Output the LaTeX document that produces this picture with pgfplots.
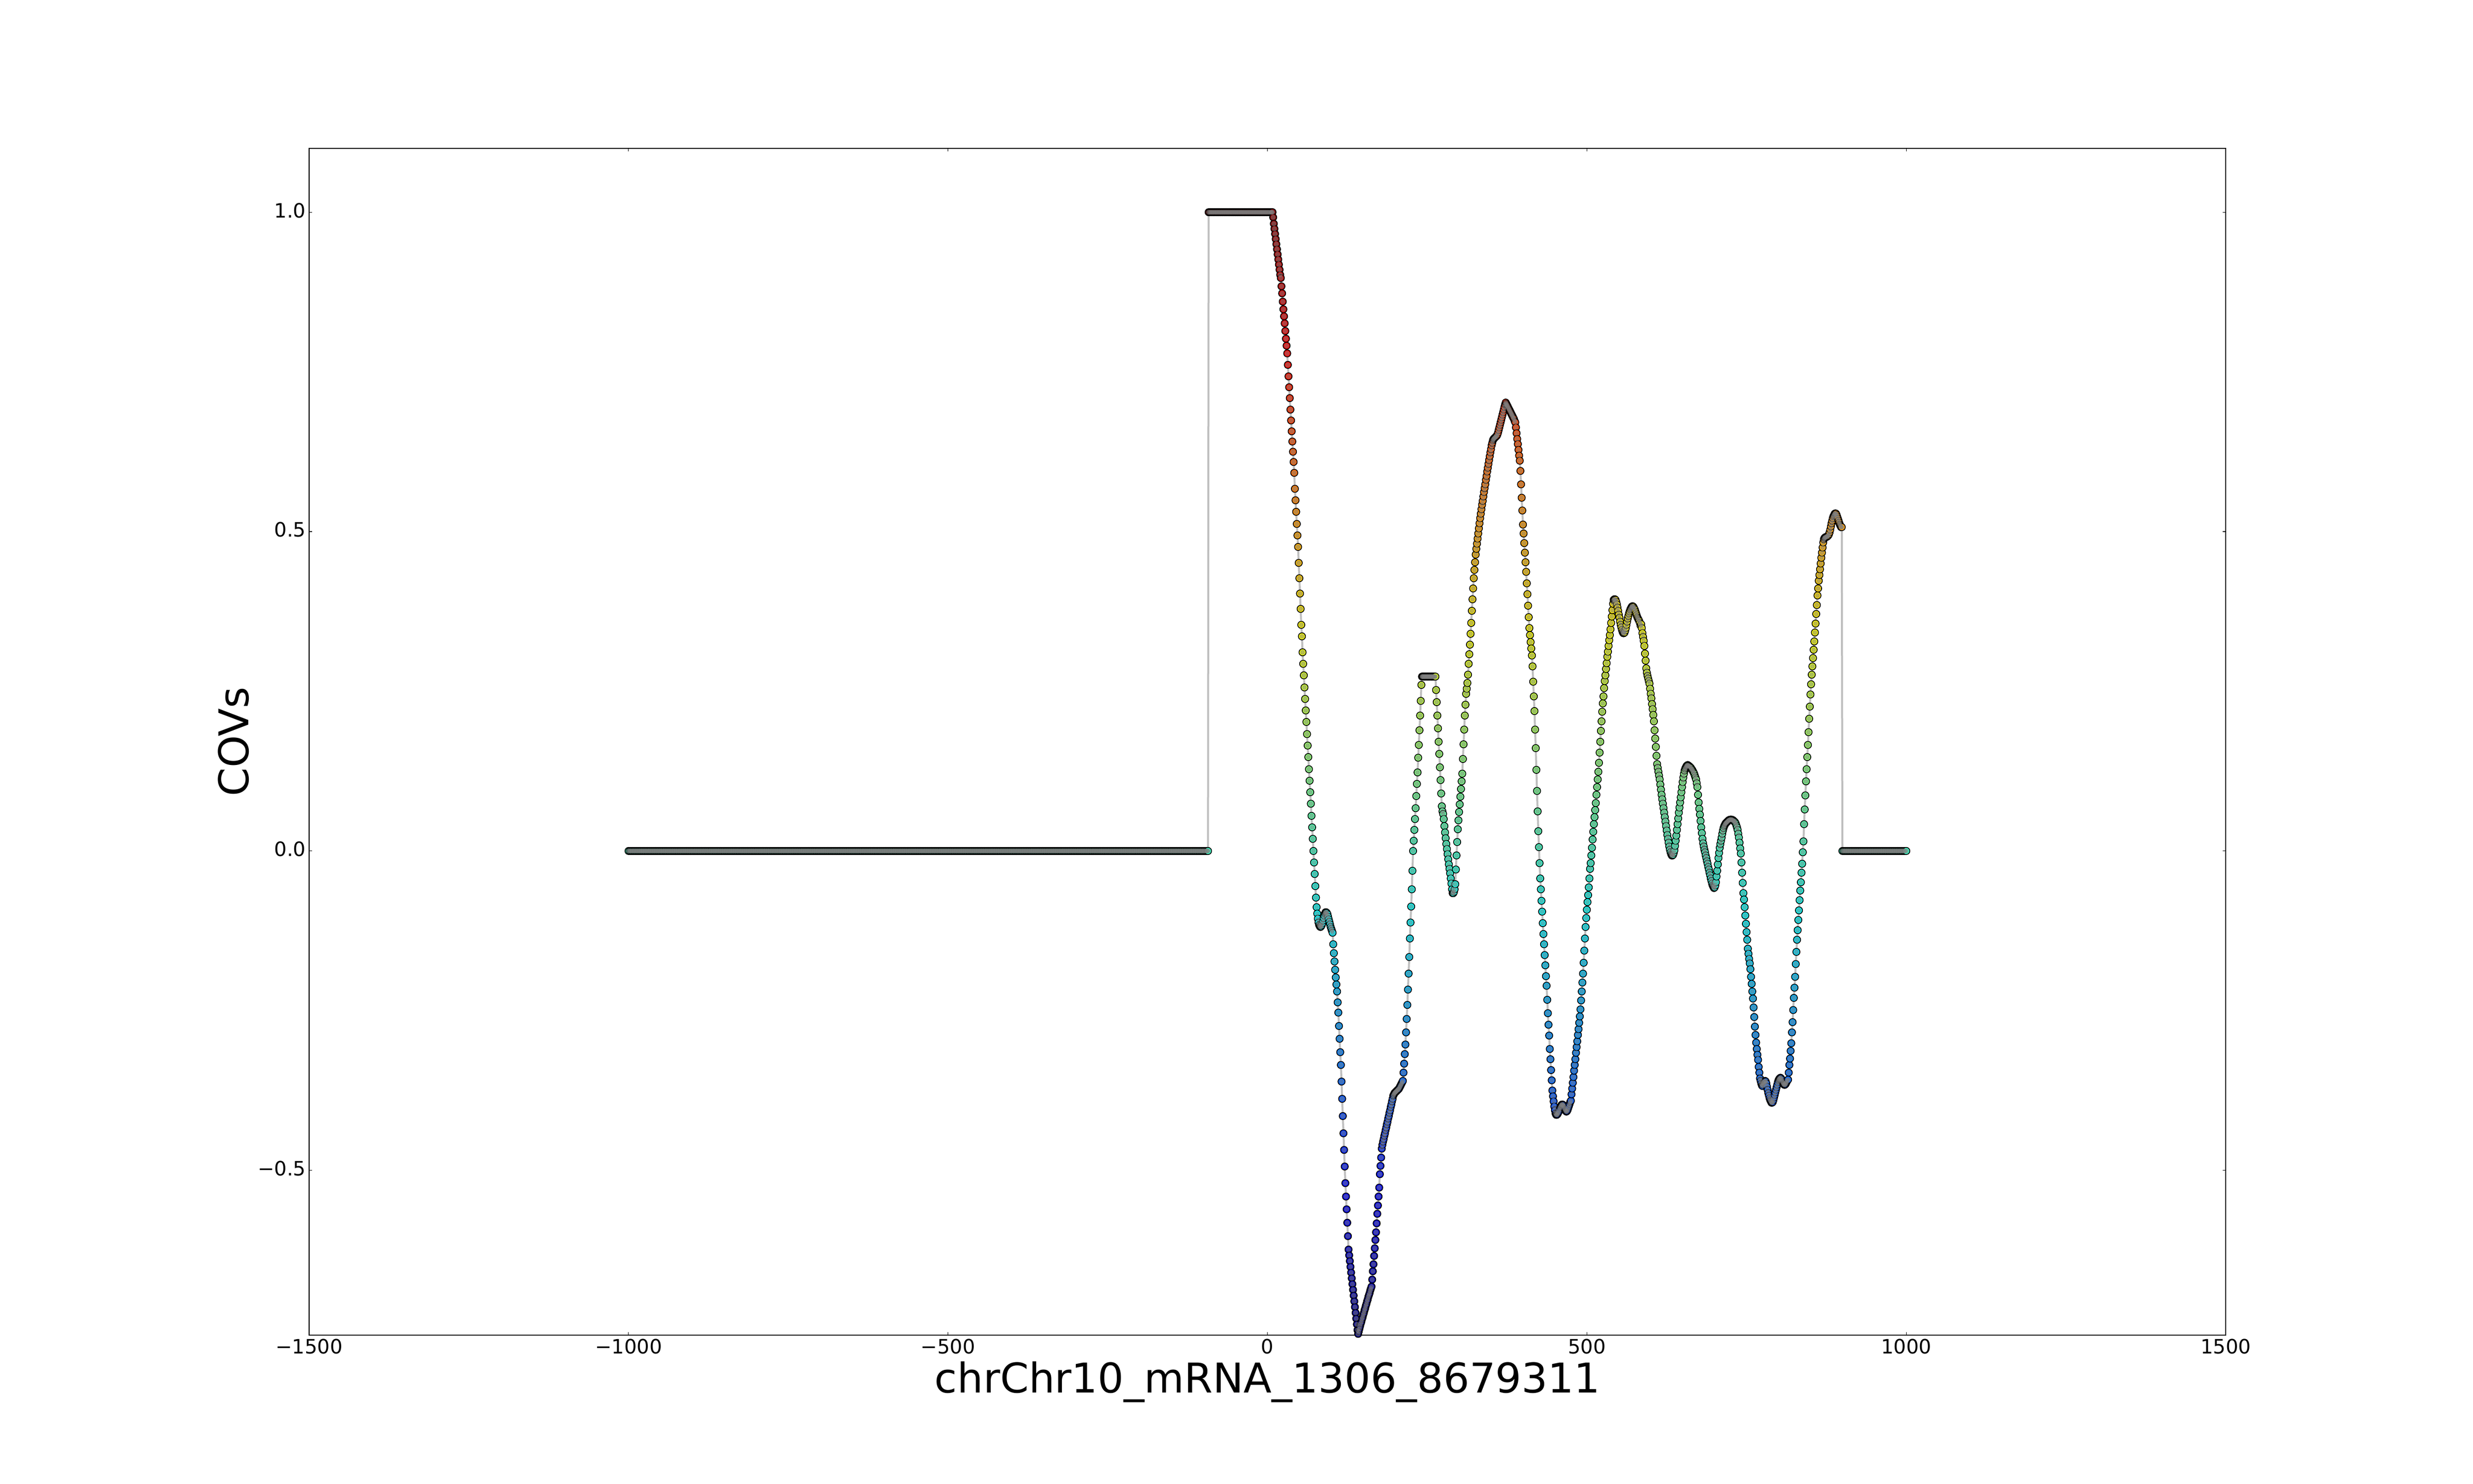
\documentclass[border=0pt]{standalone}
\usepackage{fontspec}
\setmainfont{DejaVu Sans}
\usepackage{pgfplots}
\pgfplotsset{compat=1.18}
\usepackage{pgfplotstable}

\pgfplotstableread[row sep=\\]{
x y\\
-1000 0\\ -998 0\\ -996 0\\ -994 0\\ -992 0\\ -990 0\\ -988 0\\ -986 0\\ -984 0\\ -982 0\\
-980 0\\ -978 0\\ -976 0\\ -974 0\\ -972 0\\ -970 0\\ -968 0\\ -966 0\\ -964 0\\ -962 0\\
-960 0\\ -958 0\\ -956 0\\ -954 0\\ -952 0\\ -950 0\\ -948 0\\ -946 0\\ -944 0\\ -942 0\\
-940 0\\ -938 0\\ -936 0\\ -934 0\\ -932 0\\ -930 0\\ -928 0\\ -926 0\\ -924 0\\ -922 0\\
-920 0\\ -918 0\\ -916 0\\ -914 0\\ -912 0\\ -910 0\\ -908 0\\ -906 0\\ -904 0\\ -902 0\\
-900 0\\ -898 0\\ -896 0\\ -894 0\\ -892 0\\ -890 0\\ -888 0\\ -886 0\\ -884 0\\ -882 0\\
-880 0\\ -878 0\\ -876 0\\ -874 0\\ -872 0\\ -870 0\\ -868 0\\ -866 0\\ -864 0\\ -862 0\\
-860 0\\ -858 0\\ -856 0\\ -854 0\\ -852 0\\ -850 0\\ -848 0\\ -846 0\\ -844 0\\ -842 0\\
-840 0\\ -838 0\\ -836 0\\ -834 0\\ -832 0\\ -830 0\\ -828 0\\ -826 0\\ -824 0\\ -822 0\\
-820 0\\ -818 0\\ -816 0\\ -814 0\\ -812 0\\ -810 0\\ -808 0\\ -806 0\\ -804 0\\ -802 0\\
-800 0\\ -798 0\\ -796 0\\ -794 0\\ -792 0\\ -790 0\\ -788 0\\ -786 0\\ -784 0\\ -782 0\\
-780 0\\ -778 0\\ -776 0\\ -774 0\\ -772 0\\ -770 0\\ -768 0\\ -766 0\\ -764 0\\ -762 0\\
-760 0\\ -758 0\\ -756 0\\ -754 0\\ -752 0\\ -750 0\\ -748 0\\ -746 0\\ -744 0\\ -742 0\\
-740 0\\ -738 0\\ -736 0\\ -734 0\\ -732 0\\ -730 0\\ -728 0\\ -726 0\\ -724 0\\ -722 0\\
-720 0\\ -718 0\\ -716 0\\ -714 0\\ -712 0\\ -710 0\\ -708 0\\ -706 0\\ -704 0\\ -702 0\\
-700 0\\ -698 0\\ -696 0\\ -694 0\\ -692 0\\ -690 0\\ -688 0\\ -686 0\\ -684 0\\ -682 0\\
-680 0\\ -678 0\\ -676 0\\ -674 0\\ -672 0\\ -670 0\\ -668 0\\ -666 0\\ -664 0\\ -662 0\\
-660 0\\ -658 0\\ -656 0\\ -654 0\\ -652 0\\ -650 0\\ -648 0\\ -646 0\\ -644 0\\ -642 0\\
-640 0\\ -638 0\\ -636 0\\ -634 0\\ -632 0\\ -630 0\\ -628 0\\ -626 0\\ -624 0\\ -622 0\\
-620 0\\ -618 0\\ -616 0\\ -614 0\\ -612 0\\ -610 0\\ -608 0\\ -606 0\\ -604 0\\ -602 0\\
-600 0\\ -598 0\\ -596 0\\ -594 0\\ -592 0\\ -590 0\\ -588 0\\ -586 0\\ -584 0\\ -582 0\\
-580 0\\ -578 0\\ -576 0\\ -574 0\\ -572 0\\ -570 0\\ -568 0\\ -566 0\\ -564 0\\ -562 0\\
-560 0\\ -558 0\\ -556 0\\ -554 0\\ -552 0\\ -550 0\\ -548 0\\ -546 0\\ -544 0\\ -542 0\\
-540 0\\ -538 0\\ -536 0\\ -534 0\\ -532 0\\ -530 0\\ -528 0\\ -526 0\\ -524 0\\ -522 0\\
-520 0\\ -518 0\\ -516 0\\ -514 0\\ -512 0\\ -510 0\\ -508 0\\ -506 0\\ -504 0\\ -502 0\\
-500 0\\ -498 0\\ -496 0\\ -494 0\\ -492 0\\ -490 0\\ -488 0\\ -486 0\\ -484 0\\ -482 0\\
-480 0\\ -478 0\\ -476 0\\ -474 0\\ -472 0\\ -470 0\\ -468 0\\ -466 0\\ -464 0\\ -462 0\\
-460 0\\ -458 0\\ -456 0\\ -454 0\\ -452 0\\ -450 0\\ -448 0\\ -446 0\\ -444 0\\ -442 0\\
-440 0\\ -438 0\\ -436 0\\ -434 0\\ -432 0\\ -430 0\\ -428 0\\ -426 0\\ -424 0\\ -422 0\\
-420 0\\ -418 0\\ -416 0\\ -414 0\\ -412 0\\ -410 0\\ -408 0\\ -406 0\\ -404 0\\ -402 0\\
-400 0\\ -398 0\\ -396 0\\ -394 0\\ -392 0\\ -390 0\\ -388 0\\ -386 0\\ -384 0\\ -382 0\\
-380 0\\ -378 0\\ -376 0\\ -374 0\\ -372 0\\ -370 0\\ -368 0\\ -366 0\\ -364 0\\ -362 0\\
-360 0\\ -358 0\\ -356 0\\ -354 0\\ -352 0\\ -350 0\\ -348 0\\ -346 0\\ -344 0\\ -342 0\\
-340 0\\ -338 0\\ -336 0\\ -334 0\\ -332 0\\ -330 0\\ -328 0\\ -326 0\\ -324 0\\ -322 0\\
-320 0\\ -318 0\\ -316 0\\ -314 0\\ -312 0\\ -310 0\\ -308 0\\ -306 0\\ -304 0\\ -302 0\\
-300 0\\ -298 0\\ -296 0\\ -294 0\\ -292 0\\ -290 0\\ -288 0\\ -286 0\\ -284 0\\ -282 0\\
-280 0\\ -278 0\\ -276 0\\ -274 0\\ -272 0\\ -270 0\\ -268 0\\ -266 0\\ -264 0\\ -262 0\\
-260 0\\ -258 0\\ -256 0\\ -254 0\\ -252 0\\ -250 0\\ -248 0\\ -246 0\\ -244 0\\ -242 0\\
-240 0\\ -238 0\\ -236 0\\ -234 0\\ -232 0\\ -230 0\\ -228 0\\ -226 0\\ -224 0\\ -222 0\\
-220 0\\ -218 0\\ -216 0\\ -214 0\\ -212 0\\ -210 0\\ -208 0\\ -206 0\\ -204 0\\ -202 0\\
-200 0\\ -198 0\\ -196 0\\ -194 0\\ -192 0\\ -190 0\\ -188 0\\ -186 0\\ -184 0\\ -182 0\\
-180 0\\ -178 0\\ -176 0\\ -174 0\\ -172 0\\ -170 0\\ -168 0\\ -166 0\\ -164 0\\ -162 0\\
-160 0\\ -158 0\\ -156 0\\ -154 0\\ -152 0\\ -150 0\\ -148 0\\ -146 0\\ -144 0\\ -142 0\\
-140 0\\ -138 0\\ -136 0\\ -134 0\\ -132 0\\ -130 0\\ -128 0\\ -126 0\\ -124 0\\ -122 0\\
-120 0\\ -118 0\\ -116 0\\ -114 0\\ -112 0\\ -110 0\\ -108 0\\ -106 0\\ -104 0\\ -102 0\\
-100 0\\ -98 0\\ -96 0\\ -94 0\\ -93 0\\
-92 1\\ -90 1\\ -88 1\\ -86 1\\ -84 1\\ -82 1\\ -80 1\\ -78 1\\ -76 1\\ -74 1\\
-72 1\\ -70 1\\ -68 1\\ -66 1\\ -64 1\\ -62 1\\ -60 1\\ -58 1\\ -56 1\\ -54 1\\
-52 1\\ -50 1\\ -48 1\\ -46 1\\ -44 1\\ -42 1\\ -40 1\\ -38 1\\ -36 1\\ -34 1\\
-32 1\\ -30 1\\ -28 1\\ -26 1\\ -24 1\\ -22 1\\ -20 1\\ -18 1\\ -16 1\\ -14 1\\
-12 1\\ -10 1\\ -8 1\\ -6 1\\ -4 1\\ -2 1\\ 0 1\\ 2 1\\ 4 1\\ 6 1\\ 7 1\\
8 1.000\\ 9 0.992\\ 10 0.982\\ 11 0.974\\ 12 0.966\\ 13 0.958\\ 14 0.950\\ 15 0.942\\ 16 0.934\\ 17 0.926\\
18 0.918\\ 19 0.910\\ 20 0.902\\ 21 0.897\\ 22 0.884\\ 23 0.873\\ 24 0.860\\ 25 0.848\\ 26 0.837\\ 27 0.826\\
28 0.814\\ 29 0.802\\ 30 0.791\\ 31 0.779\\ 32 0.761\\ 33 0.743\\ 34 0.726\\ 35 0.709\\ 36 0.691\\ 37 0.674\\
38 0.657\\ 39 0.641\\ 40 0.625\\ 41 0.609\\ 42 0.592\\ 43 0.567\\ 44 0.549\\ 45 0.531\\ 46 0.512\\ 47 0.494\\
48 0.476\\ 49 0.451\\ 50 0.427\\ 51 0.403\\ 52 0.379\\ 53 0.354\\ 54 0.336\\ 55 0.311\\ 56 0.293\\ 57 0.275\\
58 0.256\\ 59 0.238\\ 60 0.220\\ 61 0.202\\ 62 0.183\\ 63 0.165\\ 64 0.147\\ 65 0.128\\ 66 0.110\\ 67 0.092\\
68 0.074\\ 69 0.055\\ 70 0.037\\ 71 0.019\\ 72 0.000\\ 73 -0.018\\ 74 -0.036\\ 75 -0.055\\ 76 -0.073\\ 77 -0.088\\
78 -0.098\\ 79 -0.106\\ 80 -0.112\\ 81 -0.116\\ 82 -0.118\\ 83 -0.119\\ 84 -0.118\\ 85 -0.116\\ 86 -0.113\\ 87 -0.109\\
88 -0.105\\ 89 -0.101\\ 90 -0.098\\ 91 -0.096\\ 92 -0.096\\ 93 -0.097\\ 94 -0.099\\ 95 -0.103\\ 96 -0.107\\ 97 -0.111\\
98 -0.115\\ 99 -0.119\\ 100 -0.122\\ 101 -0.125\\ 102 -0.128\\ 103 -0.146\\ 104 -0.160\\ 105 -0.173\\ 106 -0.186\\ 107 -0.198\\
108 -0.209\\ 109 -0.220\\ 110 -0.237\\ 111 -0.253\\ 112 -0.274\\ 113 -0.294\\ 114 -0.315\\ 115 -0.335\\ 116 -0.361\\ 117 -0.388\\
118 -0.415\\ 119 -0.442\\ 120 -0.468\\ 121 -0.494\\ 122 -0.520\\ 123 -0.541\\ 124 -0.561\\ 125 -0.582\\ 126 -0.603\\ 127 -0.624\\
128 -0.633\\ 129 -0.642\\ 130 -0.651\\ 131 -0.660\\ 132 -0.669\\ 133 -0.678\\ 134 -0.687\\ 135 -0.696\\ 136 -0.705\\ 137 -0.714\\
138 -0.723\\ 139 -0.732\\ 140 -0.741\\ 141 -0.750\\ 142 -0.756\\ 143 -0.752\\ 144 -0.748\\ 145 -0.744\\ 146 -0.740\\ 147 -0.737\\
148 -0.733\\ 149 -0.730\\ 150 -0.726\\ 151 -0.723\\ 152 -0.719\\ 153 -0.716\\ 154 -0.712\\ 155 -0.709\\ 156 -0.705\\ 157 -0.702\\
158 -0.698\\ 159 -0.695\\ 160 -0.692\\ 161 -0.688\\ 162 -0.685\\ 163 -0.682\\ 164 -0.671\\ 165 -0.658\\ 166 -0.647\\ 167 -0.634\\
168 -0.622\\ 169 -0.609\\ 170 -0.597\\ 171 -0.583\\ 172 -0.568\\ 173 -0.555\\ 174 -0.541\\ 175 -0.527\\ 176 -0.506\\ 177 -0.493\\
178 -0.480\\ 179 -0.466\\ 180 -0.460\\ 181 -0.455\\ 182 -0.451\\ 183 -0.446\\ 184 -0.442\\ 185 -0.437\\ 186 -0.433\\ 187 -0.428\\
188 -0.424\\ 189 -0.419\\ 190 -0.415\\ 191 -0.410\\ 192 -0.406\\ 193 -0.401\\ 194 -0.397\\ 195 -0.392\\ 196 -0.388\\ 197 -0.383\\
198 -0.381\\ 199 -0.379\\ 200 -0.378\\ 201 -0.377\\ 202 -0.376\\ 203 -0.375\\ 204 -0.374\\ 205 -0.373\\ 206 -0.372\\ 207 -0.370\\
208 -0.368\\ 209 -0.366\\ 210 -0.364\\ 211 -0.362\\ 212 -0.360\\ 213 -0.347\\ 214 -0.333\\ 215 -0.318\\ 216 -0.303\\ 217 -0.284\\
218 -0.263\\ 219 -0.241\\ 220 -0.217\\ 221 -0.192\\ 222 -0.166\\ 223 -0.137\\ 224 -0.112\\ 225 -0.087\\ 226 -0.060\\ 227 -0.031\\
228 0.000\\ 229 0.016\\ 230 0.033\\ 231 0.050\\ 232 0.067\\ 233 0.086\\ 234 0.105\\ 235 0.123\\ 236 0.146\\ 237 0.166\\
238 0.189\\ 239 0.212\\ 240 0.235\\ 241 0.260\\ 242 0.273\\ 243 0.273\\ 244 0.273\\ 245 0.273\\ 246 0.273\\ 247 0.273\\
248 0.273\\ 249 0.273\\ 250 0.273\\ 251 0.273\\ 252 0.273\\ 253 0.273\\ 254 0.273\\ 255 0.273\\ 256 0.273\\ 257 0.273\\
258 0.273\\ 259 0.273\\ 260 0.273\\ 261 0.273\\ 262 0.273\\ 263 0.273\\ 264 0.252\\ 265 0.233\\ 266 0.212\\ 267 0.192\\
268 0.171\\ 269 0.152\\ 270 0.131\\ 271 0.111\\ 272 0.090\\ 273 0.070\\ 274 0.062\\ 275 0.058\\ 276 0.050\\ 277 0.039\\
278 0.029\\ 279 0.020\\ 280 0.011\\ 281 0.003\\ 282 -0.005\\ 283 -0.013\\ 284 -0.021\\ 285 -0.028\\ 286 -0.035\\ 287 -0.043\\
288 -0.051\\ 289 -0.060\\ 290 -0.066\\ 291 -0.066\\ 292 -0.064\\ 293 -0.060\\ 294 -0.052\\ 295 -0.029\\ 296 -0.007\\ 297 0.014\\
298 0.034\\ 299 0.048\\ 300 0.061\\ 301 0.073\\ 302 0.085\\ 303 0.097\\ 304 0.109\\ 305 0.121\\ 306 0.144\\ 307 0.167\\
308 0.190\\ 309 0.212\\ 310 0.229\\ 311 0.246\\ 312 0.254\\ 313 0.263\\ 314 0.276\\ 315 0.293\\ 316 0.308\\ 317 0.323\\
318 0.340\\ 319 0.357\\ 320 0.376\\ 321 0.394\\ 322 0.411\\ 323 0.427\\ 324 0.440\\ 325 0.452\\ 326 0.464\\ 327 0.473\\
328 0.481\\ 329 0.489\\ 330 0.497\\ 331 0.505\\ 332 0.513\\ 333 0.521\\ 334 0.528\\ 335 0.535\\ 336 0.542\\ 337 0.548\\
338 0.555\\ 339 0.562\\ 340 0.568\\ 341 0.574\\ 342 0.581\\ 343 0.587\\ 344 0.594\\ 345 0.600\\ 346 0.606\\ 347 0.612\\
348 0.618\\ 349 0.624\\ 350 0.629\\ 351 0.635\\ 352 0.639\\ 353 0.643\\ 354 0.645\\ 355 0.646\\ 356 0.647\\ 357 0.648\\
358 0.649\\ 359 0.650\\ 360 0.652\\ 361 0.655\\ 362 0.659\\ 363 0.663\\ 364 0.667\\ 365 0.671\\ 366 0.675\\ 367 0.679\\
368 0.683\\ 369 0.687\\ 370 0.691\\ 371 0.695\\ 372 0.699\\ 373 0.702\\ 374 0.700\\ 375 0.698\\ 376 0.696\\ 377 0.694\\
378 0.692\\ 379 0.690\\ 380 0.688\\ 381 0.686\\ 382 0.684\\ 383 0.682\\ 384 0.680\\ 385 0.678\\ 386 0.676\\ 387 0.673\\
388 0.671\\ 389 0.663\\ 390 0.654\\ 391 0.645\\ 392 0.637\\ 393 0.628\\ 394 0.619\\ 395 0.611\\ 396 0.595\\ 397 0.574\\
398 0.553\\ 399 0.533\\ 400 0.511\\ 401 0.497\\ 402 0.482\\ 403 0.467\\ 404 0.452\\ 405 0.437\\ 406 0.419\\ 407 0.402\\
408 0.384\\ 409 0.366\\ 410 0.349\\ 411 0.338\\ 412 0.327\\ 413 0.317\\ 414 0.306\\ 415 0.289\\ 416 0.265\\ 417 0.242\\
418 0.219\\ 419 0.190\\ 420 0.161\\ 421 0.127\\ 422 0.094\\ 423 0.062\\ 424 0.031\\ 425 0.006\\ 426 -0.019\\ 427 -0.043\\
428 -0.060\\ 429 -0.078\\ 430 -0.095\\ 431 -0.113\\ 432 -0.130\\ 433 -0.146\\ 434 -0.163\\ 435 -0.179\\ 436 -0.196\\ 437 -0.211\\
438 -0.233\\ 439 -0.254\\ 440 -0.272\\ 441 -0.289\\ 442 -0.310\\ 443 -0.326\\ 444 -0.343\\ 445 -0.359\\ 446 -0.375\\ 447 -0.384\\
448 -0.392\\ 449 -0.400\\ 450 -0.406\\ 451 -0.411\\ 452 -0.413\\ 453 -0.413\\ 454 -0.412\\ 455 -0.410\\ 456 -0.408\\ 457 -0.405\\
458 -0.402\\ 459 -0.400\\ 460 -0.398\\ 461 -0.397\\ 462 -0.397\\ 463 -0.398\\ 464 -0.400\\ 465 -0.403\\ 466 -0.405\\ 467 -0.407\\
468 -0.408\\ 469 -0.407\\ 470 -0.405\\ 471 -0.402\\ 472 -0.399\\ 473 -0.396\\ 474 -0.393\\ 475 -0.391\\ 476 -0.381\\ 477 -0.372\\
478 -0.363\\ 479 -0.354\\ 480 -0.344\\ 481 -0.335\\ 482 -0.326\\ 483 -0.316\\ 484 -0.307\\ 485 -0.298\\ 486 -0.288\\ 487 -0.279\\
488 -0.269\\ 489 -0.259\\ 490 -0.248\\ 491 -0.234\\ 492 -0.220\\ 493 -0.206\\ 494 -0.192\\ 495 -0.175\\ 496 -0.156\\ 497 -0.137\\
498 -0.119\\ 499 -0.105\\ 500 -0.092\\ 501 -0.080\\ 502 -0.069\\ 503 -0.057\\ 504 -0.043\\ 505 -0.028\\ 506 -0.019\\ 507 -0.007\\
508 0.005\\ 509 0.018\\ 510 0.030\\ 511 0.042\\ 512 0.053\\ 513 0.064\\ 514 0.075\\ 515 0.088\\ 516 0.100\\ 517 0.112\\
518 0.124\\ 519 0.138\\ 520 0.154\\ 521 0.171\\ 522 0.188\\ 523 0.203\\ 524 0.218\\ 525 0.231\\ 526 0.242\\ 527 0.255\\
528 0.266\\ 529 0.275\\ 530 0.285\\ 531 0.294\\ 532 0.304\\ 533 0.312\\ 534 0.321\\ 535 0.330\\ 536 0.338\\ 537 0.347\\
538 0.357\\ 539 0.367\\ 540 0.377\\ 541 0.387\\ 542 0.393\\ 543 0.394\\ 544 0.394\\ 545 0.393\\ 546 0.390\\ 547 0.386\\
548 0.381\\ 549 0.376\\ 550 0.370\\ 551 0.365\\ 552 0.359\\ 553 0.354\\ 554 0.350\\ 555 0.346\\ 556 0.343\\ 557 0.341\\
558 0.341\\ 559 0.342\\ 560 0.345\\ 561 0.349\\ 562 0.354\\ 563 0.359\\ 564 0.364\\ 565 0.368\\ 566 0.372\\ 567 0.375\\
568 0.378\\ 569 0.380\\ 570 0.382\\ 571 0.383\\ 572 0.383\\ 573 0.382\\ 574 0.380\\ 575 0.378\\ 576 0.375\\ 577 0.372\\
578 0.369\\ 579 0.366\\ 580 0.364\\ 581 0.362\\ 582 0.360\\ 583 0.357\\ 584 0.353\\ 585 0.355\\ 586 0.349\\ 587 0.341\\
588 0.335\\ 589 0.329\\ 590 0.321\\ 591 0.309\\ 592 0.298\\ 593 0.286\\ 594 0.279\\ 595 0.274\\ 596 0.270\\ 597 0.266\\
598 0.262\\ 599 0.254\\ 600 0.246\\ 601 0.239\\ 602 0.230\\ 603 0.222\\ 604 0.213\\ 605 0.203\\ 606 0.189\\ 607 0.176\\
608 0.163\\ 609 0.149\\ 610 0.136\\ 611 0.130\\ 612 0.124\\ 613 0.118\\ 614 0.112\\ 615 0.104\\ 616 0.096\\ 617 0.088\\
618 0.081\\ 619 0.074\\ 620 0.067\\ 621 0.060\\ 622 0.053\\ 623 0.046\\ 624 0.039\\ 625 0.032\\ 626 0.025\\ 627 0.019\\
628 0.013\\ 629 0.007\\ 630 0.002\\ 631 -0.002\\ 632 -0.005\\ 633 -0.007\\ 634 -0.007\\ 635 -0.006\\ 636 -0.003\\ 637 0.001\\
638 0.008\\ 639 0.016\\ 640 0.024\\ 641 0.033\\ 642 0.042\\ 643 0.051\\ 644 0.060\\ 645 0.068\\ 646 0.076\\ 647 0.084\\
648 0.092\\ 649 0.100\\ 650 0.108\\ 651 0.115\\ 652 0.121\\ 653 0.126\\ 654 0.129\\ 655 0.131\\ 656 0.133\\ 657 0.134\\
658 0.1345\\ 659 0.1335\\ 660 0.133\\ 661 0.132\\ 662 0.131\\ 663 0.130\\ 664 0.128\\ 665 0.127\\ 666 0.125\\ 667 0.123\\
668 0.121\\ 669 0.118\\ 670 0.115\\ 671 0.112\\ 672 0.106\\ 673 0.100\\ 674 0.088\\ 675 0.076\\ 676 0.066\\ 677 0.057\\
678 0.047\\ 679 0.037\\ 680 0.028\\ 681 0.019\\ 682 0.012\\ 683 0.007\\ 684 0.002\\ 685 -0.002\\ 686 -0.007\\ 687 -0.011\\
688 -0.016\\ 689 -0.020\\ 690 -0.025\\ 691 -0.029\\ 692 -0.034\\ 693 -0.038\\ 694 -0.043\\ 695 -0.047\\ 696 -0.051\\ 697 -0.054\\
698 -0.056\\ 699 -0.058\\ 700 -0.057\\ 701 -0.054\\ 702 -0.049\\ 703 -0.040\\ 704 -0.031\\ 705 -0.021\\ 706 -0.011\\ 707 -0.003\\
708 0.005\\ 709 0.011\\ 710 0.016\\ 711 0.021\\ 712 0.027\\ 713 0.032\\ 714 0.036\\ 715 0.039\\ 716 0.041\\ 717 0.043\\
718 0.044\\ 719 0.045\\ 720 0.046\\ 721 0.047\\ 722 0.048\\ 723 0.0485\\ 724 0.049\\ 725 0.049\\ 726 0.049\\ 727 0.049\\
728 0.048\\ 729 0.048\\ 730 0.047\\ 731 0.046\\ 732 0.045\\ 733 0.043\\ 734 0.040\\ 735 0.037\\ 736 0.033\\ 737 0.027\\
738 0.021\\ 739 0.013\\ 740 0.004\\ 741 -0.004\\ 742 -0.018\\ 743 -0.034\\ 744 -0.050\\ 745 -0.066\\ 746 -0.076\\ 747 -0.088\\
748 -0.101\\ 749 -0.114\\ 750 -0.127\\ 751 -0.139\\ 752 -0.153\\ 753 -0.161\\ 754 -0.169\\ 755 -0.176\\ 756 -0.185\\ 757 -0.197\\
758 -0.208\\ 759 -0.220\\ 760 -0.231\\ 761 -0.245\\ 762 -0.260\\ 763 -0.275\\ 764 -0.288\\ 765 -0.300\\ 766 -0.310\\ 767 -0.319\\
768 -0.327\\ 769 -0.338\\ 770 -0.347\\ 771 -0.356\\ 772 -0.360\\ 773 -0.364\\ 774 -0.367\\ 775 -0.368\\ 776 -0.366\\ 777 -0.363\\
778 -0.361\\ 779 -0.360\\ 780 -0.361\\ 781 -0.364\\ 782 -0.369\\ 783 -0.374\\ 784 -0.379\\ 785 -0.383\\ 786 -0.387\\ 787 -0.390\\
788 -0.392\\ 789 -0.394\\ 790 -0.394\\ 791 -0.393\\ 792 -0.390\\ 793 -0.386\\ 794 -0.382\\ 795 -0.378\\ 796 -0.374\\ 797 -0.370\\
798 -0.366\\ 799 -0.362\\ 800 -0.359\\ 801 -0.357\\ 802 -0.356\\ 803 -0.355\\ 804 -0.356\\ 805 -0.358\\ 806 -0.361\\ 807 -0.363\\
808 -0.365\\ 809 -0.366\\ 810 -0.366\\ 811 -0.365\\ 812 -0.363\\ 813 -0.361\\ 814 -0.359\\ 815 -0.358\\ 816 -0.347\\ 817 -0.335\\
818 -0.325\\ 819 -0.313\\ 820 -0.301\\ 821 -0.284\\ 822 -0.268\\ 823 -0.249\\ 824 -0.230\\ 825 -0.214\\ 826 -0.197\\ 827 -0.177\\
828 -0.158\\ 829 -0.139\\ 830 -0.124\\ 831 -0.108\\ 832 -0.093\\ 833 -0.077\\ 834 -0.062\\ 835 -0.049\\ 836 -0.034\\ 837 -0.020\\
838 -0.002\\ 839 0.015\\ 840 0.042\\ 841 0.065\\ 842 0.087\\ 843 0.109\\ 844 0.128\\ 845 0.147\\ 846 0.166\\ 847 0.186\\
848 0.207\\ 849 0.226\\ 850 0.245\\ 851 0.261\\ 852 0.276\\ 853 0.289\\ 854 0.302\\ 855 0.315\\ 856 0.328\\ 857 0.342\\
858 0.356\\ 859 0.371\\ 860 0.385\\ 861 0.400\\ 862 0.411\\ 863 0.423\\ 864 0.432\\ 865 0.441\\ 866 0.450\\ 867 0.459\\
868 0.467\\ 869 0.475\\ 870 0.483\\ 871 0.488\\ 872 0.490\\ 873 0.491\\ 874 0.491\\ 875 0.492\\ 876 0.492\\ 877 0.493\\
878 0.494\\ 879 0.496\\ 880 0.499\\ 881 0.503\\ 882 0.508\\ 883 0.513\\ 884 0.517\\ 885 0.521\\ 886 0.524\\ 887 0.526\\
888 0.528\\ 889 0.5285\\ 890 0.528\\ 891 0.526\\ 892 0.523\\ 893 0.520\\ 894 0.517\\ 895 0.514\\ 896 0.511\\ 897 0.509\\
898 0.507\\ 899 0.507\\
900 0\\ 902 0\\ 904 0\\ 906 0\\ 908 0\\ 910 0\\ 912 0\\ 914 0\\ 916 0\\ 918 0\\
920 0\\ 922 0\\ 924 0\\ 926 0\\ 928 0\\ 930 0\\ 932 0\\ 934 0\\ 936 0\\ 938 0\\
940 0\\ 942 0\\ 944 0\\ 946 0\\ 948 0\\ 950 0\\ 952 0\\ 954 0\\ 956 0\\ 958 0\\
960 0\\ 962 0\\ 964 0\\ 966 0\\ 968 0\\ 970 0\\ 972 0\\ 974 0\\ 976 0\\ 978 0\\
980 0\\ 982 0\\ 984 0\\ 986 0\\ 988 0\\ 990 0\\ 992 0\\ 994 0\\ 996 0\\ 998 0\\
1000 0\\
}\covs

\begin{document}
\begin{tikzpicture}
\useasboundingbox (-156.25pt,-75pt) rectangle (1093.75pt,675pt);
\begin{axis}[
  at={(0pt,0pt)}, anchor=south west,
  scale only axis, width=968.75pt, height=600pt,
  xmin=-1500, xmax=1500, ymin=-0.758, ymax=1.1,
  xtick={-1500,-1000,-500,0,500,1000,1500},
  xticklabels={−1500,−1000,−500,0,500,1000,1500},
  ytick={-0.5,0,0.5,1},
  yticklabels={−0.5,0.0,0.5,1.0},
  tick align=inside,
  major tick length=1.5pt,
  every tick/.style={black, line width=0.3pt},
  ticklabel style={font=\fontsize{10}{12}\selectfont},
  xticklabel style={anchor=north, inner sep=0pt, yshift=-1.75pt},
  yticklabel style={anchor=east, inner sep=0pt, xshift=-1.5pt, yshift=0.9pt},
  axis line style={line width=0.4pt},
  colormap/jet,
  point meta min=-0.757, point meta max=1,
]
\addplot[scatter, only marks, mark=*, mark size=1.8pt, line width=0.4pt,
  point meta=y,
  scatter/use mapped color={draw=black, fill=mapped color}] table[x=x,y=y]{\covs};
\addplot[color=gray, line width=1pt, opacity=0.5, mark=*, mark size=1.1pt,
  mark options={fill=gray, draw=gray, line width=0.2pt}] table[x=x,y=y]{\covs};
\end{axis}
\node[anchor=base, font=\fontsize{20.75}{24}\selectfont] at (484.375pt,-29pt) {chrChr10\_mRNA\_1306\_8679311};
\node[anchor=base, rotate=90, font=\fontsize{20.75}{24}\selectfont] at (-30.5pt,300pt) {COVs};
\end{tikzpicture}
\end{document}
